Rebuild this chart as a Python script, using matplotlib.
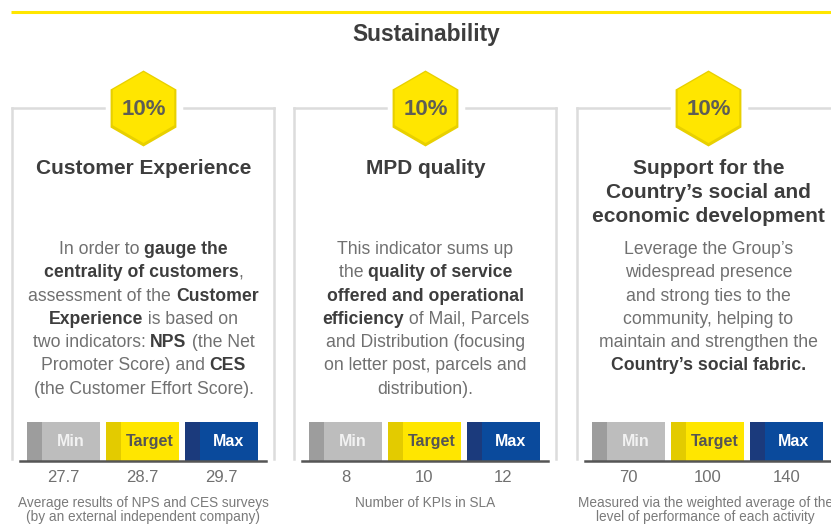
import numpy as np
import matplotlib
matplotlib.use("Agg")
import matplotlib.pyplot as plt
from matplotlib.patches import RegularPolygon

FONT = "Liberation Sans"

# chart content
section_title = "Sustainability"
weights = ["10%", "10%", "10%"]
titles = [["Customer Experience"],
          ["MPD quality"],
          ["Support for the", "Country\u2019s social and", "economic development"]]
levels = ["Min", "Target", "Max"]
min_values = ["27.7", "8", "70"]
target_values = ["28.7", "10", "100"]
max_values = ["29.7", "12", "140"]
footnotes = [["Average results of NPS and CES surveys", "(by an external independent company)"],
             ["Number of KPIs in SLA"],
             ["Measured via the weighted average of the", "level of performance of each activity"]]

# body text, (segment, bold) per line
body_ce = [[("In order to ", False), ("gauge the", True)],
           [("centrality of customers", True), (",", False)],
           [("assessment of the ", False), ("Customer", True)],
           [("Experience", True), (" is based on", False)],
           [("two indicators: ", False), ("NPS", True), (" (the Net", False)],
           [("Promoter Score) and ", False), ("CES", True)],
           [("(the Customer Effort Score).", False)]]
body_mpd = [[("This indicator sums up", False)],
            [("the ", False), ("quality of service", True)],
            [("offered and operational", True)],
            [("efficiency", True), (" of Mail, Parcels", False)],
            [("and Distribution (focusing", False)],
            [("on letter post, parcels and", False)],
            [("distribution).", False)]]
body_sup = [[("Leverage the Group\u2019s", False)],
            [("widespread presence", False)],
            [("and strong ties to the", False)],
            [("community, helping to", False)],
            [("maintain and strengthen the", False)],
            [("Country\u2019s social fabric.", True)]]
bodies = [body_ce, body_mpd, body_sup]

# styles
YELLOW = "#ffe600"
YELLOW_DARK = "#e8d000"
bar_colors = ["#bdbdbd", YELLOW, "#0a4a9c"]
strip_colors = ["#9d9d9d", "#e3cb00", "#1b3a7c"]
label_colors = ["#f2f2f2", "#555555", "#ffffff"]
DARK = "#3d3d3d"
BODY = "#707070"
NOTE = "#7a7a7a"

fig = plt.figure(figsize=(8.31, 5.25), dpi=100)
ax = fig.add_axes([0, 0, 1, 1])
ax.set_xlim(0, 831)
ax.set_ylim(525, 0)
ax.axis("off")
renderer = fig.canvas.get_renderer()


def text_width(s, size, bold):
    kw = dict(fontsize=size, family=FONT, fontweight="bold" if bold else "normal")
    t1 = ax.text(0, 0, "|" + s + "|", **kw)
    t2 = ax.text(0, 0, "||", **kw)
    w = t1.get_window_extent(renderer).width - t2.get_window_extent(renderer).width
    t1.remove()
    t2.remove()
    return w


def rich_line(cx, y, segments, size):
    widths = [text_width(s, size, b) for s, b in segments]
    x = cx - sum(widths) / 2
    for (s, b), w in zip(segments, widths):
        ax.text(x, y, s, ha="left", va="baseline", fontsize=size, family=FONT,
                fontweight="bold" if b else "normal", color=DARK if b else BODY)
        x += w


# top rule and section title
ax.plot([11, 831], [12, 12], color=YELLOW, lw=2.2, solid_capstyle="butt")
ax.text(426, 40.5, section_title, ha="center", va="baseline", fontsize=16.4,
        fontweight="bold", family=FONT, color=DARK)

panel_left = [12, 294, 577]
panel_w = 262
box_top = 108
baseline_y = 461
bar_top = 422
bar_w = 73
bar_gap = 6
strip_w = 15

for i in range(3):
    left = panel_left[i]
    cx = left + panel_w / 2 + 0.5
    # box outline with gap for the hexagon
    ax.plot([left, left], [box_top, baseline_y - 2], color="#dcdcdc", lw=1.8)
    ax.plot([left + panel_w, left + panel_w], [box_top, baseline_y - 2], color="#dcdcdc", lw=1.8)
    ax.plot([left, cx - 40], [box_top, box_top], color="#dcdcdc", lw=1.8)
    ax.plot([cx + 40, left + panel_w], [box_top, box_top], color="#dcdcdc", lw=1.8)

    # hexagon badge
    ax.add_patch(RegularPolygon((cx, box_top + 0.5), 6, radius=38, orientation=0,
                                facecolor=YELLOW_DARK, edgecolor="none", zorder=3))
    ax.add_patch(RegularPolygon((cx, box_top - 0.5), 6, radius=35.5, orientation=0,
                                facecolor=YELLOW, edgecolor="none", zorder=4))
    ax.text(cx, box_top + 7, weights[i], ha="center", va="baseline", fontsize=16,
            fontweight="bold", family=FONT, color="#5e5e55", zorder=5)

    # title
    for j, line in enumerate(titles[i]):
        ax.text(cx, 174.5 + j * 23.5, line, ha="center", va="baseline", fontsize=15,
                fontweight="bold", family=FONT, color=DARK)

    # body
    for j, segs in enumerate(bodies[i]):
        rich_line(cx, 254 + j * 23.3, segs, 12.7)

    # level bars
    vals = [min_values[i], target_values[i], max_values[i]]
    x0 = left + 15
    xs = [x0 + k * (bar_w + bar_gap) for k in range(3)]
    ax.bar(xs, baseline_y - bar_top, width=bar_w, bottom=bar_top, align="edge",
           color=bar_colors, zorder=2)
    ax.bar(xs, baseline_y - bar_top, width=strip_w, bottom=bar_top, align="edge",
           color=strip_colors, zorder=2)
    for k in range(3):
        ax.text(xs[k] + bar_w / 2 + 7, 446, levels[k], ha="center", va="baseline",
                fontsize=11.5, fontweight="bold", family=FONT, color=label_colors[k], zorder=3)
        ax.text(xs[k] + bar_w / 2, 482, vals[k], ha="center", va="baseline",
                fontsize=12, family=FONT, color=BODY)
    ax.plot([left + 8, left + panel_w - 8], [baseline_y, baseline_y], color="#555555",
            lw=1.8, zorder=3)

    # footnote
    for j, line in enumerate(footnotes[i]):
        ax.text(cx - (3 if i == 2 else 0), 507 + j * 14.5, line, ha="center", va="baseline",
                fontsize=9.8, family=FONT, color=NOTE)

fig.savefig("out.png", dpi=100)
